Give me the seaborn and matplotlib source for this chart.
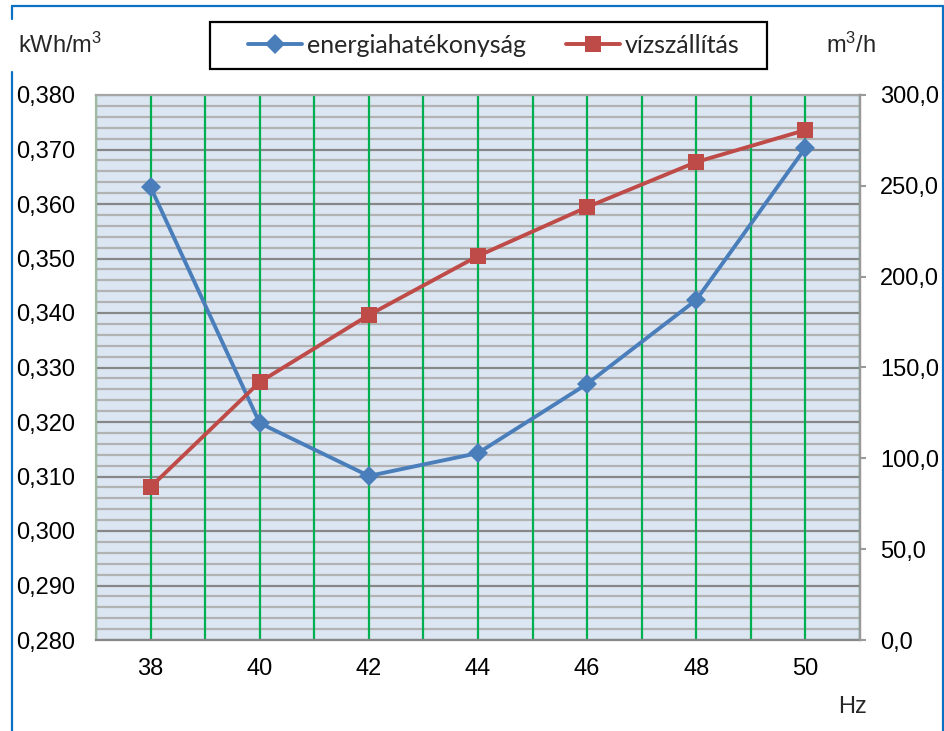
import matplotlib
matplotlib.use("Agg")
import matplotlib.pyplot as plt
from matplotlib.ticker import MultipleLocator, FuncFormatter
from matplotlib.lines import Line2D
from matplotlib.patches import Rectangle
import seaborn as sns
import pandas as pd

# Pump measurements at different drive frequencies
freq_hz = [38, 40, 42, 44, 46, 48, 50]
efficiency_kwh_m3 = [0.3631, 0.3198, 0.3101, 0.3143, 0.3270, 0.3424, 0.3703]
flow_m3_h = [84.2, 142.0, 178.9, 211.4, 238.3, 263.1, 280.7]
series_names = ["energiahatékonyság", "vízszállítás"]

sns.set_style("white")
plt.rcParams["font.family"] = ["Liberation Sans", "DejaVu Sans"]
plt.rcParams["mathtext.default"] = "regular"
FS = 17
LEG_FS = 18

W, H = 944, 731
fig = plt.figure(figsize=(W / 100, H / 100), dpi=100)
fig.patch.set_facecolor("white")


def fx(px):
    return px / W


def fy(py):
    return 1 - py / H


ax = fig.add_axes([fx(96), fy(640), fx(860) - fx(96), fy(95) - fy(640)])
ax.set_facecolor("#DCE6F2")

df = pd.DataFrame({"Hz": freq_hz, "eff": efficiency_kwh_m3, "flow": flow_m3_h})

blue = "#4A7EBB"
red = "#BE4B48"
sns.lineplot(data=df, x="Hz", y="eff", ax=ax, color=blue, lw=2.8,
             marker="D", ms=10, mec=blue, mew=0, legend=False, zorder=5)
ax2 = ax.twinx()
sns.lineplot(data=df, x="Hz", y="flow", ax=ax2, color=red, lw=2.8,
             marker="s", ms=12, mec=red, mew=0, legend=False, zorder=5)

# Axis ranges and ticks
ax.set_xlim(37, 51)
ax.set_ylim(0.280, 0.380)
ax2.set_ylim(0, 300)
ax.xaxis.set_major_locator(MultipleLocator(2))
ax.xaxis.set_minor_locator(MultipleLocator(1))
ax.yaxis.set_major_locator(MultipleLocator(0.01))
ax.yaxis.set_minor_locator(MultipleLocator(0.002))
ax2.yaxis.set_major_locator(MultipleLocator(50))

ax.yaxis.set_major_formatter(FuncFormatter(lambda v, p: f"{v:.3f}".replace(".", ",")))
ax2.yaxis.set_major_formatter(FuncFormatter(lambda v, p: f"{v:.1f}".replace(".", ",")))
ax.xaxis.set_major_formatter(FuncFormatter(lambda v, p: f"{int(round(v))}"))

ax.set_xlabel("")
ax.set_ylabel("")
ax2.set_ylabel("")

# Grid: green verticals every Hz, gray horizontals
ax.grid(True, axis="x", which="both", color="#00B050", lw=1.6)
ax.grid(True, axis="y", which="major", color="#878787", lw=1.6)
ax.grid(True, axis="y", which="minor", color="#B2B2B2", lw=1.6)
ax.set_axisbelow(True)
ax.yaxis.set_zorder(0.4)
ax.xaxis.set_zorder(0.6)

ax.tick_params(axis="x", which="both", length=0, pad=13, labelsize=FS, colors="black")
ax.tick_params(axis="y", which="both", length=0, pad=15, labelsize=FS, colors="black")
ax2.tick_params(axis="y", which="major", length=4.5, width=1.5, color="#999999",
                pad=10, labelsize=FS, labelcolor="black")
ax2.tick_params(axis="y", which="minor", length=0)

for a in (ax, ax2):
    for s in a.spines.values():
        s.set_linewidth(1.6)
ax.spines["left"].set_color("#A3B8A3")
ax.spines["top"].set_color("#A6A6A6")
ax.spines["bottom"].set_color("#878787")
ax.spines["right"].set_color("#999999")
for s in ("left", "top", "bottom"):
    ax2.spines[s].set_visible(False)
ax2.spines["right"].set_color("#999999")

# Legend with a framed box above the plot
handles = [
    Line2D([], [], color=blue, lw=2.8, marker="D", ms=10, mew=0),
    Line2D([], [], color=red, lw=2.8, marker="s", ms=12, mew=0),
]
fs_px = LEG_FS * 100 / 72
fig.legend(handles, series_names, ncol=2, loc="center left",
           bbox_to_anchor=(fx(248), fy(45.5)), frameon=False,
           prop={"family": ["Lato", "DejaVu Sans"], "size": LEG_FS},
           borderpad=0, borderaxespad=0,
           handlelength=54 / fs_px, handletextpad=5 / fs_px, columnspacing=40 / fs_px)
fig.patches.append(Rectangle((fx(210), fy(69)), fx(767) - fx(210), fy(22) - fy(69),
                             transform=fig.transFigure, fill=False,
                             edgecolor="black", lw=1.6))

# Unit labels
fig.text(fx(18), fy(45), "kWh/m$^3$", fontsize=FS, ha="left", va="center")
fig.text(fx(851), fy(45), "m$^3$/h", fontsize=FS, ha="center", va="center")
fig.text(fx(852), fy(707), "Hz", fontsize=FS, ha="center", va="center")

# Blue chart frame
frame_kw = dict(color="#0A70C4", lw=1.6, transform=fig.transFigure)
fig.lines.append(Line2D([fx(12), fx(943)], [fy(6), fy(6)], **frame_kw))
fig.lines.append(Line2D([fx(943), fx(943)], [fy(6), fy(735)], **frame_kw))
fig.lines.append(Line2D([fx(12), fx(12)], [fy(6), fy(19)], **frame_kw))
fig.lines.append(Line2D([fx(12), fx(12)], [fy(72), fy(735)], **frame_kw))

fig.savefig("out.png", dpi=100)
